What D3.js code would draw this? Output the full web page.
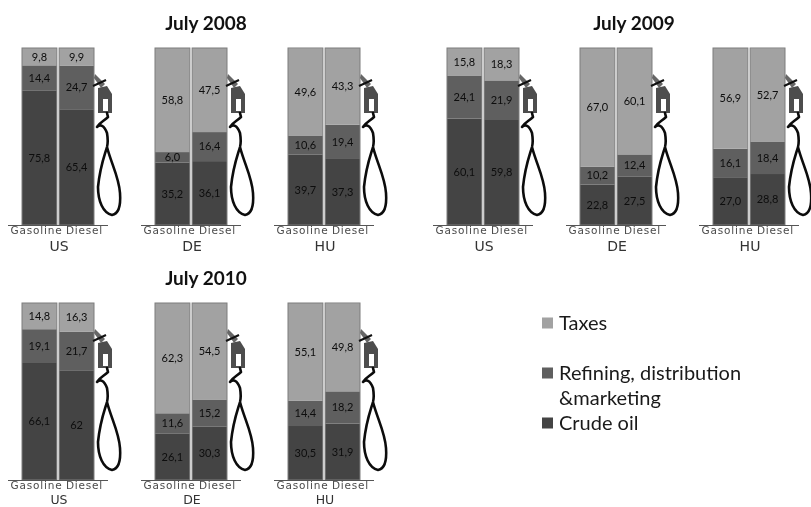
<!DOCTYPE html>
<html>
<head>
<meta charset="utf-8">
<script src="https://cdn.jsdelivr.net/npm/d3@7"></script>
<style>
  html, body { margin: 0; padding: 0; background: #fff; }
  svg { display: block; filter: blur(0.45px); }
</style>
</head>
<body>
<div id="chart"></div>
<script>
// Values, one [gasoline, diesel] pair per country
const countries = ["US", "DE", "HU"];
const fuels = ["Gasoline", "Diesel"];
const layers = ["crude", "refining", "taxes"];
const legendLabels = ["Taxes", "Refining, distribution", "Crude oil"];

const crude2008 = [["75,8", "65,4"], ["35,2", "36,1"], ["39,7", "37,3"]];
const refining2008 = [["14,4", "24,7"], ["6,0", "16,4"], ["10,6", "19,4"]];
const taxes2008 = [["9,8", "9,9"], ["58,8", "47,5"], ["49,6", "43,3"]];

const crude2009 = [["60,1", "59,8"], ["22,8", "27,5"], ["27,0", "28,8"]];
const refining2009 = [["24,1", "21,9"], ["10,2", "12,4"], ["16,1", "18,4"]];
const taxes2009 = [["15,8", "18,3"], ["67,0", "60,1"], ["56,9", "52,7"]];

const crude2010 = [["66,1", "62"], ["26,1", "30,3"], ["30,5", "31,9"]];
const refining2010 = [["19,1", "21,7"], ["11,6", "15,2"], ["14,4", "18,2"]];
const taxes2010 = [["14,8", "16,3"], ["62,3", "54,5"], ["55,1", "49,8"]];

// Groups of three pumps: title, left edge and vertical position
// The bottom row has less room, so its country names are smaller
const groups = [
    {title: "July 2008", crude: crude2008, refining: refining2008, taxes: taxes2008, left: 22, top: 48, titleX: 206, titleY: 30, countryY: 26, countrySize: 14},
    {title: "July 2009", crude: crude2009, refining: refining2009, taxes: taxes2009, left: 447, top: 48, titleX: 634, titleY: 30, countryY: 26, countrySize: 14},
    {title: "July 2010", crude: crude2010, refining: refining2010, taxes: taxes2010, left: 22, top: 303, titleX: 206, titleY: 285, countryY: 24, countrySize: 12.5}
];

const width = 811;
const height = 507;
const panelWidth = 72;
const panelHeight = 177;
const panelStep = 133;

const colors = d3.scaleOrdinal()
    .domain(layers)
    .range(["#444444", "#5f5f5f", "#a2a2a2"]);

const svg = d3.select("#chart").append("svg")
    .attr("width", width)
    .attr("height", height)
    .style("font-family", "Lato, sans-serif");

// Scales shared by all panels
const x = d3.scaleBand()
    .domain(fuels)
    .range([0, panelWidth])
    .paddingInner(0.06);

const y = d3.scaleLinear()
    .domain([0, 100])
    .range([panelHeight, 0]);

// The fuel names sit wider apart than the bars
const xLabel = d3.scalePoint()
    .domain(fuels)
    .range([14, 62]);

const toNumber = s => +s.replace(",", ".");

function drawPump(g) {
    const pump = g.append("g")
        .attr("transform", `translate(${panelWidth + 1},${panelHeight})`);

    // nozzle
    pump.append("path")
        .attr("d", "M0,-151 L10,-141 L6,-137 L-1,-147 Z")
        .attr("fill", "#666");
    pump.append("path")
        .attr("d", "M-2,-139 L11,-145")
        .attr("stroke", "#111")
        .attr("stroke-width", 2);

    // handle
    pump.append("path")
        .attr("d", "M3,-137 L12,-139 L17,-131 L17,-112 L3,-112 Z M8,-126 L8,-114 L13,-114 L13,-126 Z")
        .attr("fill", "#4d4d4d")
        .attr("fill-rule", "evenodd");

    // hose and loop
    pump.append("path")
        .attr("d", "M12,-112 L13,-108 C9,-104 5,-103 2,-98 C5,-101 9,-100 12,-92 C13,-86 13,-82 12,-78 C9,-68 5,-58 3,-38 C3,-24 8,-12 17,-10 C23,-11 26,-18 25,-32 C24,-48 16,-62 12,-78")
        .attr("fill", "none")
        .attr("stroke", "#0c0c0c")
        .attr("stroke-width", 2.6)
        .attr("stroke-linecap", "round")
        .attr("stroke-linejoin", "round");
}

groups.forEach(function(group) {
    svg.append("text")
        .attr("x", group.titleX)
        .attr("y", group.titleY)
        .attr("text-anchor", "middle")
        .style("font-size", "19px")
        .style("font-weight", "bold")
        .style("fill", "#111")
        .text(group.title);

    countries.forEach(function(country, i) {
        const panel = svg.append("g")
            .attr("transform", `translate(${group.left + i * panelStep},${group.top})`);

        // Stack crude, refining and taxes for each fuel
        const rows = fuels.map((fuel, f) => {
            let start = 0;
            const cells = layers.map(layer => {
                const label = group[layer][i][f];
                const v = toNumber(label);
                const cell = {layer, label, y0: start, y1: start + v};
                start += v;
                return cell;
            });
            return {fuel, cells};
        });

        const bar = panel.selectAll(".bar")
            .data(rows)
            .enter().append("g")
            .attr("class", "bar")
            .attr("transform", d => `translate(${x(d.fuel)},0)`);

        bar.selectAll("rect")
            .data(d => d.cells)
            .enter().append("rect")
            .attr("x", 0)
            .attr("y", d => y(d.y1))
            .attr("width", x.bandwidth())
            .attr("height", d => y(d.y0) - y(d.y1))
            .attr("fill", d => colors(d.layer));

        // Thin grey outline round the whole bar
        bar.append("rect")
            .attr("width", x.bandwidth())
            .attr("height", panelHeight)
            .attr("fill", "none")
            .attr("stroke", "#7d7d7d")
            .attr("stroke-width", 1);

        bar.selectAll(".value")
            .data(d => d.cells)
            .enter().append("text")
            .attr("class", "value")
            .attr("x", x.bandwidth() / 2)
            .attr("y", d => (y(d.y0) + y(d.y1)) / 2)
            .attr("dy", "0.35em")
            .attr("text-anchor", "middle")
            .style("font-size", "11px")
            .style("fill", "#0d0d0d")
            .text(d => d.label);

        drawPump(panel);

        // Baseline
        panel.append("line")
            .attr("x1", -14)
            .attr("x2", 86)
            .attr("y1", panelHeight + 0.5)
            .attr("y2", panelHeight + 0.5)
            .attr("stroke", "#555")
            .attr("stroke-width", 1);

        // Fuel names with the axis of their own scale
        const axis = panel.append("g")
            .attr("transform", `translate(0,${panelHeight})`)
            .call(d3.axisBottom(xLabel).tickSize(0).tickPadding(2));
        axis.select(".domain").remove();
        axis.selectAll("text")
            .style("font-family", "'DejaVu Sans', sans-serif")
            .style("font-size", "10.5px")
            .style("letter-spacing", "0.8px")
            .style("fill", "#4a4a4a");

        panel.append("text")
            .attr("x", 37)
            .attr("y", panelHeight + group.countryY)
            .attr("text-anchor", "middle")
            .style("font-family", "'DejaVu Sans', sans-serif")
            .style("font-size", group.countrySize + "px")
            .style("fill", "#333")
            .text(country);
    });
});

// Legend
const legend = svg.append("g").attr("transform", "translate(542,0)");
const legendRows = [
    {label: legendLabels[0], layer: "taxes", y: 323},
    {label: legendLabels[1], layer: "refining", y: 373},
    {label: legendLabels[2], layer: "crude", y: 423}
];

legend.selectAll("rect")
    .data(legendRows)
    .enter().append("rect")
    .attr("x", 0)
    .attr("y", d => d.y - 5.5)
    .attr("width", 11)
    .attr("height", 11)
    .attr("fill", d => colors(d.layer));

legend.selectAll(".legend-label")
    .data(legendRows)
    .enter().append("text")
    .attr("class", "legend-label")
    .attr("x", 17)
    .attr("y", d => d.y)
    .attr("dy", "0.35em")
    .style("font-size", "20px")
    .style("fill", "#1a1a1a")
    .text(d => d.label);

legend.append("text")
    .attr("x", 17)
    .attr("y", 398)
    .attr("dy", "0.35em")
    .style("font-size", "20px")
    .style("fill", "#1a1a1a")
    .text("&marketing");
</script>
</body>
</html>
